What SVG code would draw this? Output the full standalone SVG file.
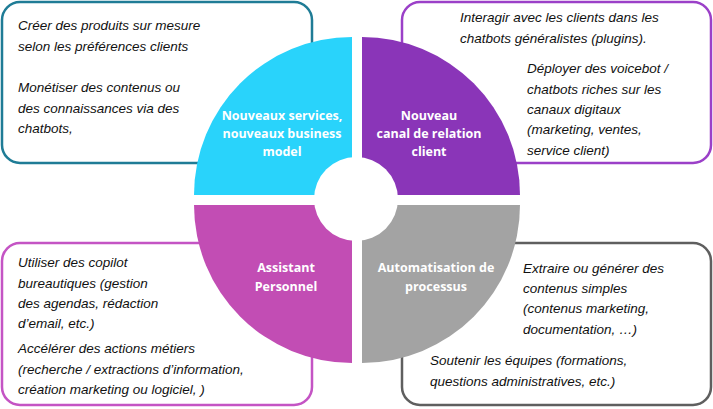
<svg xmlns="http://www.w3.org/2000/svg" width="713" height="409" viewBox="0 0 713 409">
<style>
.box{fill:#fff;stroke-width:2.5}
.t{font-family:"Liberation Sans",Arial,sans-serif;font-style:italic;font-size:13.5px;fill:#111}
.q{font-family:"Open Sans","Liberation Sans",sans-serif;font-weight:bold;font-size:12.5px;fill:#fff;text-anchor:middle}
</style>
<rect width="713" height="409" fill="#fff"/>
<g id="box-tl"><rect class="box" x="2" y="2" width="310" height="161" rx="18" stroke="#1f7c96"/>
<text class="t" x="18" y="30">Créer des produits sur mesure</text><text class="t" x="18" y="51">selon les préférences clients</text>
<text class="t" x="18" y="92">Monétiser des contenus ou</text><text class="t" x="18" y="113">des connaissances via des</text><text class="t" x="18" y="133">chatbots,</text></g>
<g id="box-tr"><rect class="box" x="402" y="2" width="309" height="161" rx="18" stroke="#9b40c8"/>
<text class="t" x="460" y="22">Interagir avec les clients dans les</text><text class="t" x="460" y="43">chatbots généralistes (plugins).</text>
<text class="t" x="527" y="73">Déployer des voicebot /</text><text class="t" x="527" y="94">chatbots riches sur les</text><text class="t" x="527" y="114">canaux digitaux</text><text class="t" x="527" y="134">(marketing, ventes,</text><text class="t" x="527" y="155">service client)</text></g>
<g id="box-bl"><rect class="box" x="2" y="243" width="310" height="162" rx="18" stroke="#c454c4"/>
<text class="t" x="18" y="267">Utiliser des copilot</text><text class="t" x="18" y="288">bureautiques (gestion</text><text class="t" x="18" y="308">des agendas, rédaction</text><text class="t" x="18" y="328">d’email, etc.)</text>
<text class="t" x="18" y="353">Accélérer des actions métiers</text><text class="t" x="18" y="374">(recherche / extractions d’information,</text><text class="t" x="18" y="394">création marketing ou logiciel, )</text></g>
<g id="box-br"><rect class="box" x="402" y="243" width="309" height="162" rx="18" stroke="#5f5f5f"/>
<text class="t" x="523" y="273">Extraire ou générer des</text><text class="t" x="523" y="293">contenus simples</text><text class="t" x="523" y="313">(contenus marketing,</text><text class="t" x="523" y="334">documentation, …)</text>
<text class="t" x="430" y="365">Soutenir les équipes (formations,</text><text class="t" x="430" y="386">questions administratives, etc.)</text></g>
<g id="q-tl"><path d="M352,195 L194,195 A158,158 0 0 1 352,37 Z" fill="#29d3fb"/></g>
<g id="q-tr"><path d="M362,195 L362,37 A158,158 0 0 1 520,195 Z" fill="#8a35b8"/></g>
<g id="q-bl"><path d="M352,205 L352,363 A158,158 0 0 1 194,205 Z" fill="#c24db4"/></g>
<g id="q-br"><path d="M362,205 L520,205 A158,158 0 0 1 362,363 Z" fill="#a3a3a3"/></g>
<circle cx="356" cy="199" r="42" fill="#fff"/>
<g id="labels">
<text class="q" x="282" y="120">Nouveaux services,</text><text class="q" x="282" y="138">nouveaux business</text><text class="q" x="282" y="156">model</text>
<text class="q" x="429" y="120">Nouveau</text><text class="q" x="429" y="138">canal de relation</text><text class="q" x="429" y="156">client</text>
<text class="q" x="286" y="272">Assistant</text><text class="q" x="286" y="291">Personnel</text>
<text class="q" x="436" y="272">Automatisation de</text><text class="q" x="436" y="291">processus</text>
</g>
<g id="connectors"/>
</svg>
